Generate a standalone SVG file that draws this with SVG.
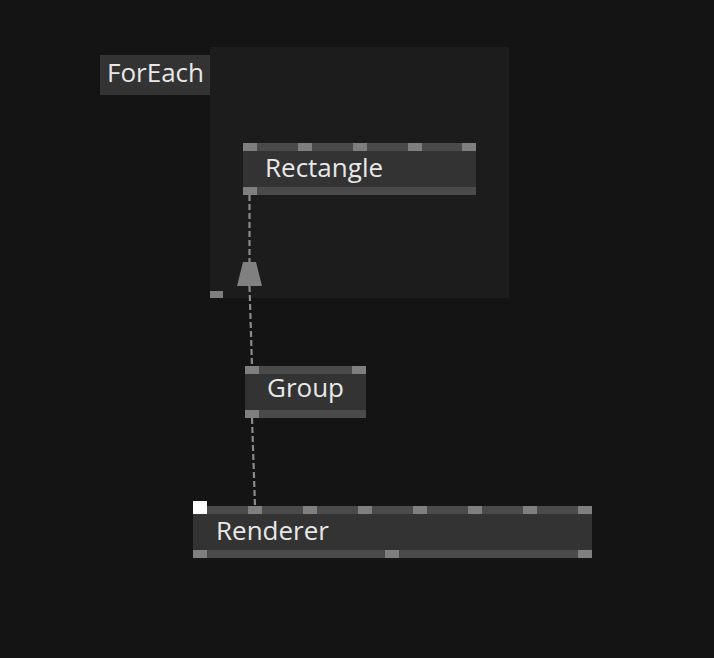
<svg xmlns="http://www.w3.org/2000/svg" width="714" height="658" viewBox="0 0 714 658">
<style>
.body{fill:#333333}
.bar{fill:#4a4a4a}
.port{fill:#7f7f7f}
.lbl{font-family:"Open Sans","Noto Sans",sans-serif;font-size:26px;fill:#e8e8e8}
.conn{stroke:#8a8a8a;stroke-width:2.2;stroke-dasharray:6,3;fill:none}
</style>
<rect width="714" height="658" fill="#141414"/>
<g id="foreach">
<rect x="210" y="47" width="299" height="251" fill="#1c1c1c"/>
<rect x="100" y="55" width="110" height="40" fill="#333333"/>
<text class="lbl" x="107" y="82">ForEach</text>
<rect class="port" x="210" y="291" width="13" height="7"/>
</g>
<g id="connectors">
<line class="conn" x1="249.5" y1="195" x2="249.5" y2="262"/>
<line class="conn" x1="249.5" y1="286" x2="252" y2="366"/>
<polygon points="243,262 256,262 262,286 237,286" fill="#808080"/>
<line class="conn" x1="252" y1="418" x2="255" y2="506"/>
</g>
<g id="rectangle">
<rect class="body" x="243" y="143" width="233" height="52"/>
<rect class="bar" x="243" y="143" width="233" height="8"/>
<rect class="bar" x="243" y="187" width="233" height="8"/>
<rect class="port" x="243" y="143" width="14" height="8"/>
<rect class="port" x="298" y="143" width="14" height="8"/>
<rect class="port" x="353" y="143" width="14" height="8"/>
<rect class="port" x="408" y="143" width="14" height="8"/>
<rect class="port" x="462" y="143" width="14" height="8"/>
<rect class="port" x="243" y="187" width="14" height="8"/>
<text class="lbl" x="265" y="177">Rectangle</text>
</g>
<g id="group">
<rect class="body" x="245" y="366" width="121" height="52"/>
<rect class="bar" x="245" y="366" width="121" height="8"/>
<rect class="bar" x="245" y="410" width="121" height="8"/>
<rect class="port" x="245" y="366" width="14" height="8"/>
<rect class="port" x="352" y="366" width="14" height="8"/>
<rect class="port" x="245" y="410" width="14" height="8"/>
<text class="lbl" x="267" y="397">Group</text>
</g>
<g id="renderer">
<rect class="body" x="193" y="506" width="399" height="52"/>
<rect class="bar" x="193" y="506" width="399" height="8"/>
<rect class="bar" x="193" y="550" width="399" height="8"/>
<rect class="port" x="248" y="506" width="14" height="8"/>
<rect class="port" x="303" y="506" width="14" height="8"/>
<rect class="port" x="358" y="506" width="14" height="8"/>
<rect class="port" x="413" y="506" width="14" height="8"/>
<rect class="port" x="468" y="506" width="14" height="8"/>
<rect class="port" x="523" y="506" width="14" height="8"/>
<rect class="port" x="578" y="506" width="14" height="8"/>
<rect class="port" x="193" y="550" width="14" height="8"/>
<rect class="port" x="385" y="550" width="14" height="8"/>
<rect class="port" x="578" y="550" width="14" height="8"/>
<rect x="193" y="501" width="14" height="13" fill="#ffffff"/>
<text class="lbl" x="216" y="540">Renderer</text>
</g>
</svg>
